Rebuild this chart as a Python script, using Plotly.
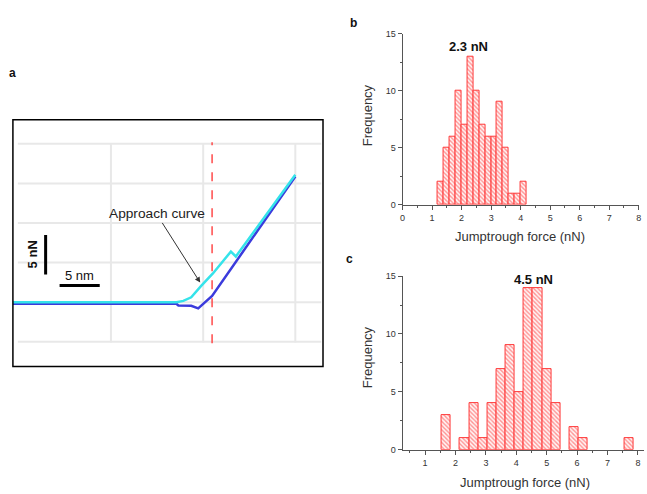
import plotly.graph_objects as go

W, H = 647, 494
FONT = "Arial, Liberation Sans, sans-serif"

# ---------- Panel a data (distance nm, force nN) ----------
approach_x = [-0.62, 19.75, 20.62, 21.6, 22.84, 24.3, 26.54, 27.16, 34.57]
approach_y = [0.0, 0.0, 0.16, 0.62, 2.06, 3.63, 6.39, 5.77, 16.1]
retract_x = [-0.62, 19.75, 20.0, 21.6, 22.47, 24.2, 34.57]
retract_y = [-0.21, -0.21, -0.42, -0.46, -0.79, 0.78, 15.88]
grid_force = [-5, 0, 5, 10, 15, 20]
grid_dist = [11.6, 23.09, 34.57]
jump_position = 24.2
scale_nN = 5
scale_nm = 5

# ---------- Panel b histogram ----------
b_centers = [1.3, 1.5, 1.7, 1.9, 2.1, 2.3, 2.5, 2.7, 2.9, 3.1, 3.3, 3.5, 3.7, 3.9, 4.1]
b_counts = [2, 5, 6, 10, 7, 13, 10, 7, 6, 6, 9, 5, 1, 1, 2]
b_peak = "2.3 nN"

# ---------- Panel c histogram ----------
c_centers = [1.7, 2.3, 2.6, 2.9, 3.2, 3.5, 3.8, 4.1, 4.4, 4.7, 5.0, 5.3, 5.9, 6.2, 7.7]
c_counts = [3, 1, 4, 1, 4, 7, 9, 5, 14, 14, 7, 4, 2, 1, 1]
c_peak = "4.5 nN"

def px(x):
    return x / W

def py(y):
    return 1 - y / H

fig = go.Figure()

CYAN = "#35e3ea"
BLUE = "#3b3bdc"
fig.add_trace(go.Scatter(x=retract_x, y=retract_y, mode="lines",
                         line=dict(color=BLUE, width=2.5), xaxis="x", yaxis="y",
                         showlegend=False, hoverinfo="skip"))
fig.add_trace(go.Scatter(x=approach_x, y=approach_y, mode="lines",
                         line=dict(color=CYAN, width=2.5), xaxis="x", yaxis="y",
                         showlegend=False, hoverinfo="skip"))

pattern = dict(shape="\\", fgcolor="#ff3030", bgcolor="#fff4f4", size=3, solidity=0.45)
fig.add_trace(go.Bar(x=b_centers, y=b_counts, width=[0.2] * len(b_centers),
                     marker=dict(color="white", pattern=pattern,
                                 line=dict(color="#ff3a3a", width=1)),
                     xaxis="x2", yaxis="y2", showlegend=False, hoverinfo="skip"))
fig.add_trace(go.Bar(x=c_centers, y=c_counts, width=[0.3] * len(c_centers),
                     marker=dict(color="white", pattern=pattern,
                                 line=dict(color="#ff3a3a", width=1)),
                     xaxis="x3", yaxis="y3", showlegend=False, hoverinfo="skip"))

shapes = []
# panel a gridlines
for g in grid_force:
    shapes.append(dict(type="line", xref="x", yref="y", x0=0, x1=37.8, y0=g, y1=g,
                       line=dict(color="#e8e8e8", width=2), layer="below"))
for g in grid_dist:
    shapes.append(dict(type="line", xref="x", yref="y", x0=g, x1=g, y0=-5.1, y1=20.1,
                       line=dict(color="#e8e8e8", width=2), layer="below"))
# jump line
shapes.append(dict(type="line", xref="x", yref="y", x0=jump_position, x1=jump_position,
                   y0=-5.2, y1=20.2, line=dict(color="#ff4a4a", width=1.5, dash="dash")))
# scale bars
shapes.append(dict(type="line", xref="x", yref="y", x0=3.46, x1=3.46, y0=3.5,
                   y1=3.5 + scale_nN, line=dict(color="black", width=3)))
shapes.append(dict(type="line", xref="x", yref="y", x0=5.2, x1=5.2 + scale_nm,
                   y0=2.1, y1=2.1, line=dict(color="black", width=3)))
# panel a frame
shapes.append(dict(type="rect", xref="paper", yref="paper", x0=px(10), x1=px(323),
                   y0=py(369), y1=py(117), line=dict(color="black", width=1.5)))

ann = []
ann.append(dict(text="Approach curve", x=22.72, y=2.47, ax=17.28, ay=11.15,
                xref="x", yref="y", axref="x", ayref="y", showarrow=True,
                arrowhead=2, arrowsize=1.1, arrowwidth=1, arrowcolor="#333",
                font=dict(family=FONT, size=13.7, color="#222")))
ann.append(dict(text="<b>5 nN</b>", x=1.85, y=6.0, xref="x", yref="y", showarrow=False,
                xanchor="center", yanchor="middle",
                textangle=-90, font=dict(family=FONT, size=13, color="#111")))
ann.append(dict(text="5 nm", x=7.7, y=2.1, xref="x", yref="y", yanchor="bottom",
                xanchor="center", yshift=1, showarrow=False,
                font=dict(family=FONT, size=13, color="#111")))
for lbl, xx, yy in [("a", 10, 69), ("b", 354, 18), ("c", 350, 259)]:
    ann.append(dict(text="<b>%s</b>" % lbl, x=px(xx), y=py(yy), xref="paper", yref="paper",
                    xanchor="center", yanchor="middle", showarrow=False,
                    font=dict(family=FONT, size=12, color="#111")))
ann.append(dict(text="<b>%s</b>" % b_peak, x=2.25, y=max(b_counts), xref="x2", yref="y2",
                xanchor="center", yanchor="bottom", yshift=1, showarrow=False,
                font=dict(family=FONT, size=13, color="#111")))
ann.append(dict(text="<b>%s</b>" % c_peak, x=4.55, y=max(c_counts), xref="x3", yref="y3",
                xanchor="center", yanchor="bottom", yshift=-1, showarrow=False,
                font=dict(family=FONT, size=13, color="#111")))
for yy in [113, 360]:
    ann.append(dict(text="Frequency", x=px(368), y=py(yy), xref="paper", yref="paper",
                    xanchor="center", yanchor="middle",
                    textangle=-90, showarrow=False,
                    font=dict(family=FONT, size=13, color="#333")))
for xx, yy in [(521.7, 236.7), (526.7, 487.3)]:
    ann.append(dict(text="Jumptrough force (nN)", x=px(xx), y=py(yy), xref="paper",
                    yref="paper", xanchor="center", yanchor="middle", showarrow=False,
                    font=dict(family=FONT, size=13, color="#333")))

hist_axis = dict(showline=True, linecolor="#555", linewidth=1, showgrid=False,
                 zeroline=False, ticks="outside", ticklen=4, tickcolor="#555",
                 tickfont=dict(family=FONT, size=9, color="#333"))

fig.update_layout(
    width=W, height=H, margin=dict(l=0, r=0, t=0, b=0),
    paper_bgcolor="white", plot_bgcolor="rgba(0,0,0,0)",
    barmode="overlay", bargap=0,
    xaxis=dict(domain=[px(10), px(323)], range=[-0.617, 38.02], visible=False),
    yaxis=dict(domain=[py(369), py(117)], range=[-8.13, 23.06], visible=False),
    xaxis2=dict(domain=[px(403.3), px(641.7)], range=[0, 8], anchor="y2",
                tickvals=list(range(0, 9)),
                minor=dict(dtick=0.5, ticks="outside", ticklen=2, tickcolor="#555"),
                **hist_axis),
    yaxis2=dict(domain=[py(204), py(29.3)], range=[0, 15], anchor="x2",
                tickvals=[0, 5, 10, 15],
                minor=dict(dtick=2.5, ticks="outside", ticklen=2, tickcolor="#555"),
                **hist_axis),
    xaxis3=dict(domain=[px(403.3), 1.0], range=[0.26, 8.2], anchor="y3",
                tickvals=list(range(1, 9)),
                minor=dict(dtick=0.5, ticks="outside", ticklen=2, tickcolor="#555"),
                **hist_axis),
    yaxis3=dict(domain=[py(454), py(276.7)], range=[0, 15], anchor="x3",
                tickvals=[0, 5, 10, 15],
                minor=dict(dtick=2.5, ticks="outside", ticklen=2, tickcolor="#555"),
                **hist_axis),
    shapes=shapes, annotations=ann,
)

fig.write_html("out.html", config={"displayModeBar": False},
               post_script="document.body.style.margin='0';")
